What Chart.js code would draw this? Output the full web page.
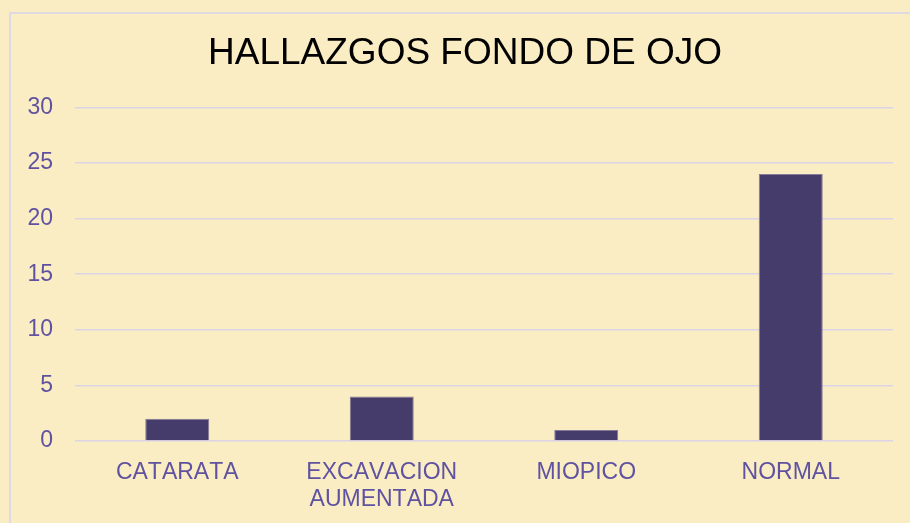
<!DOCTYPE html>
<html>
<head>
<meta charset="utf-8">
<script src="https://cdn.jsdelivr.net/npm/chart.js@4/dist/chart.umd.min.js"></script>
<style>
  html, body { margin: 0; padding: 0; background: #FAEDC4; }
  #wrap { width: 910px; height: 523px; position: relative; }
</style>
</head>
<body>
<div id="wrap"><canvas id="c" width="910" height="523"></canvas></div>
<script>
const chartTitle = "HALLAZGOS FONDO DE OJO";
const categories = ["CATARATA", ["EXCAVACION", "AUMENTADA"], "MIOPICO", "NORMAL"];
const values = [2, 4, 1, 24];
const yMin = 0, yMax = 30, yStep = 5;

const bgPlugin = {
  id: 'bg',
  afterLayout(chart) {
    const tb = chart.titleBlock;
    if (tb) { tb.left = 37; tb.right = 893; tb.width = tb.right - tb.left; }
  },
  beforeDraw(chart) {
    const ctx = chart.ctx;
    try { ctx.fontKerning = 'none'; } catch (e) {}
    ctx.save();
    ctx.fillStyle = '#FAEDC4';
    ctx.fillRect(0, 0, chart.width, chart.height);
    ctx.strokeStyle = '#D6D3EC';
    ctx.lineWidth = 1.5;
    ctx.strokeRect(10, 13, chart.width + 20, chart.height + 20);
    ctx.restore();
  }
};

new Chart(document.getElementById('c'), {
  type: 'bar',
  data: {
    labels: categories,
    datasets: [{
      data: values,
      backgroundColor: '#463C6C',
      borderColor: '#857B98',
      borderWidth: 1,
      barPercentage: 0.313,
      categoryPercentage: 1
    }]
  },
  options: {
    responsive: false,
    animation: false,
    layout: { padding: { left: 0, right: 17, top: 0, bottom: 12 } },
    plugins: {
      legend: { display: false },
      tooltip: { enabled: false },
      title: {
        display: true,
        text: chartTitle,
        color: '#000000',
        font: { family: 'Liberation Sans', size: 37, weight: 'normal' },
        padding: { top: 32, bottom: 31 }
      }
    },
    scales: {
      x: {
        grid: { display: false, drawTicks: false },
        border: { display: false },
        afterFit(scale) { scale.height = 70; },
        ticks: {
          color: '#5F52A0',
          font: { family: 'Liberation Sans', size: 23, lineHeight: 1.18 },
          padding: 18,
          maxRotation: 0,
          autoSkip: false
        }
      },
      y: {
        min: yMin, max: yMax,
        afterFit(scale) { scale.width = 75; },
        grid: { color: '#DAD4E6', lineWidth: 1.5, drawTicks: false },
        border: { display: false },
        ticks: {
          stepSize: yStep,
          color: '#5F52A0',
          font: { family: 'Liberation Sans', size: 23 },
          padding: 22
        }
      }
    }
  },
  plugins: [bgPlugin]
});
</script>
</body>
</html>
